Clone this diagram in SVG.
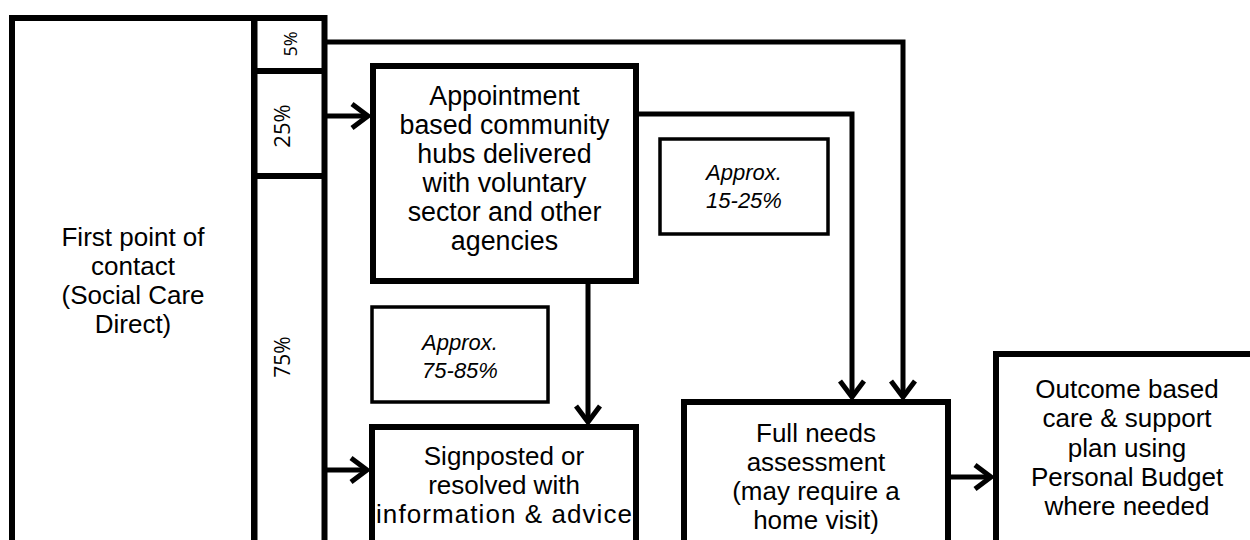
<svg xmlns="http://www.w3.org/2000/svg" width="1250" height="540" viewBox="0 0 1250 540">
<style>
.box{fill:#fff;stroke:#000;stroke-width:6}
.note{fill:#fff;stroke:#000;stroke-width:3.5}
.con{fill:none;stroke:#000;stroke-width:5;stroke-linejoin:miter}
.t{font-family:"Liberation Sans",Arial,sans-serif;font-size:26px;fill:#000;text-anchor:middle}
.i{font-family:"Liberation Sans",Arial,sans-serif;font-size:22px;font-style:italic;fill:#000;text-anchor:middle}
.p{font-family:"Open Sans","Noto Sans",sans-serif;fill:#000;text-anchor:middle}
</style>
<defs>
<marker id="arr" markerUnits="userSpaceOnUse" markerWidth="40" markerHeight="40" viewBox="-25 -20 40 40" refX="0" refY="0" orient="auto" overflow="visible">
<path d="M-16,-12 L0,0 L-16,12" fill="none" stroke="#000" stroke-width="5"/>
</marker>
</defs>
<rect width="1250" height="540" fill="#fff"/>
<g id="first-contact">
<rect class="box" x="12" y="18" width="242" height="560"/>
<text class="t" x="133"><tspan x="133" y="246">First point of</tspan><tspan x="133" y="275">contact</tspan><tspan x="133" y="304">(Social Care</tspan><tspan x="133" y="333">Direct)</tspan></text>
</g>
<g id="split-column">
<rect class="box" x="254.5" y="18" width="70" height="560"/>
<line x1="254.5" y1="71" x2="324.5" y2="71" stroke="#000" stroke-width="6"/>
<line x1="254.5" y1="176" x2="324.5" y2="176" stroke="#000" stroke-width="6"/>
<text class="p" font-size="18" transform="translate(297,44) rotate(-90)">5%</text>
<text class="p" font-size="22" transform="translate(290,126) rotate(-90)">25%</text>
<text class="p" font-size="21" transform="translate(290,357) rotate(-90)">75%</text>
</g>
<g id="connectors">
<polyline class="con" points="327,42 903,42 903,397" marker-end="url(#arr)"/>
<polyline class="con" points="327,116 368,116" marker-end="url(#arr)"/>
<polyline class="con" points="639,114 852,114 852,397" marker-end="url(#arr)"/>
<polyline class="con" points="588,284 588,422" marker-end="url(#arr)"/>
<polyline class="con" points="327,470 367,470" marker-end="url(#arr)"/>
<polyline class="con" points="951,477 991,477" marker-end="url(#arr)"/>
</g>
<g id="community-hubs">
<rect class="box" x="373" y="66" width="263" height="215"/>
<text class="t" style="font-size:26.8px"><tspan x="504.5" y="105">Appointment</tspan><tspan x="504.5" y="134">based community</tspan><tspan x="504.5" y="163">hubs delivered</tspan><tspan x="504.5" y="192">with voluntary</tspan><tspan x="504.5" y="221">sector and other</tspan><tspan x="504.5" y="250">agencies</tspan></text>
</g>
<g id="note-15-25">
<rect class="note" x="660" y="139" width="168" height="95"/>
<text class="i"><tspan x="744" y="180">Approx.</tspan><tspan x="744" y="208">15-25%</tspan></text>
</g>
<g id="note-75-85">
<rect class="note" x="372" y="307" width="176" height="95"/>
<text class="i"><tspan x="460" y="350">Approx.</tspan><tspan x="460" y="378">75-85%</tspan></text>
</g>
<g id="signposted">
<rect class="box" x="372" y="427" width="264" height="150"/>
<text class="t"><tspan x="504" y="465">Signposted or</tspan><tspan x="504" y="494">resolved with</tspan></text>
<text class="t" x="504" y="523" textLength="256" lengthAdjust="spacing">information &amp; advice</text>
</g>
<g id="full-assessment">
<rect class="box" x="684" y="402" width="264" height="170"/>
<text class="t"><tspan x="816" y="442">Full needs</tspan><tspan x="816" y="471">assessment</tspan><tspan x="816" y="500">(may require a</tspan><tspan x="816" y="529">home visit)</tspan></text>
</g>
<g id="outcome-plan">
<rect class="box" x="996" y="354" width="264" height="220"/>
<text class="t"><tspan x="1127" y="398">Outcome based</tspan><tspan x="1127" y="427">care &amp; support</tspan><tspan x="1127" y="457">plan using</tspan><tspan x="1127" y="486">Personal Budget</tspan><tspan x="1127" y="515">where needed</tspan></text>
</g>
</svg>
